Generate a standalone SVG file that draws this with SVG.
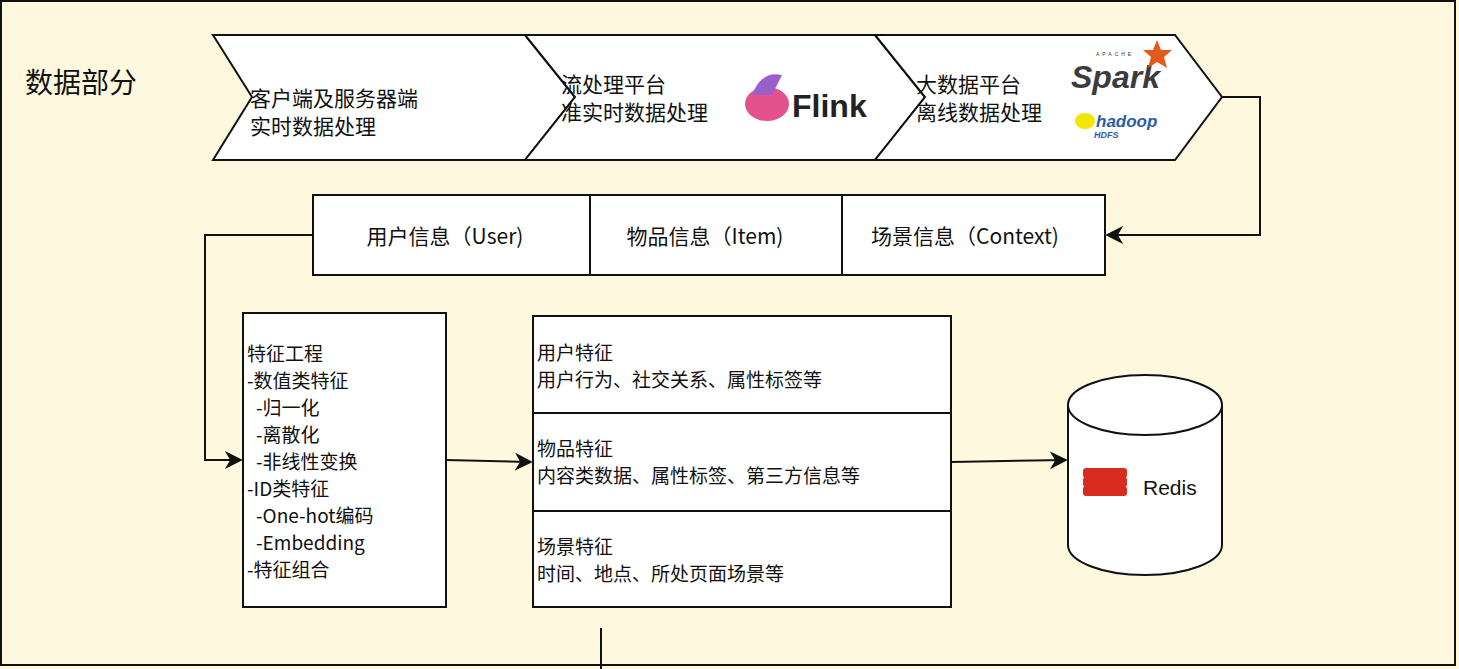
<svg xmlns="http://www.w3.org/2000/svg" width="1459" height="669" viewBox="0 0 1459 669">
<defs>
<style>
.s{fill:#fff;stroke:#111;stroke-width:2}
.t{font-family:"Noto Sans CJK SC","Liberation Sans",sans-serif;font-size:21px;fill:#111}
.f{font-family:"Noto Sans CJK SC","Liberation Sans",sans-serif;font-size:19px;fill:#111}
.c{fill:none;stroke:#111;stroke-width:2}
</style>
<marker id="a" viewBox="0 0 10 10" refX="9" refY="5" markerWidth="9" markerHeight="9" orient="auto"><path d="M0,0 L10,5 L0,10 L3,5z" fill="#111"/></marker>
</defs>
<rect x="0" y="0" width="1459" height="669" fill="#fdf8de"/>
<rect x="1" y="1" width="1454" height="664" fill="none" stroke="#111" stroke-width="2"/>
<text x="25" y="93" class="t" style="font-size:28px">数据部分</text>
<g id="step1"><polygon class="s" points="213,35 525,35 575,97 525,160 213,160 252,97"/>
<text class="t" x="250" y="106">客户端及服务器端</text><text class="t" x="250" y="134">实时数据处理</text></g>
<g id="step2"><polygon class="s" points="525,35 875,35 925,97 875,160 525,160 575,97"/>
<text class="t" x="561" y="92">流处理平台</text><text class="t" x="561" y="120">准实时数据处理</text>
<ellipse cx="767" cy="104" rx="22" ry="17" fill="#e4518f"/><path d="M752,95 q10,-25 30,-20 q-5,10 -10,20z" fill="#9b5fc9"/>
<text x="792" y="117" style="font-family:'Liberation Sans',sans-serif;font-size:32px;font-weight:bold" fill="#222">Flink</text></g>
<g id="step3"><polygon class="s" points="875,35 1175,35 1222,97 1175,160 875,160 925,97"/>
<text class="t" x="916" y="92">大数据平台</text><text class="t" x="916" y="120">离线数据处理</text>
<text x="1096" y="56" style="font-family:'Liberation Sans',sans-serif;font-size:5px;letter-spacing:3px" fill="#333">APACHE</text>
<text x="1071" y="88" style="font-family:'Liberation Sans',sans-serif;font-size:32px;font-weight:bold;font-style:italic" fill="#3c3c3c">Spark</text>
<polygon points="1157,40 1161,50 1172,50 1164,57 1167,68 1157,62 1148,68 1151,57 1143,50 1153,50" fill="#e25a1c"/>
<ellipse cx="1085" cy="121" rx="10" ry="8" fill="#f2e600"/>
<text x="1096" y="127" style="font-family:'Liberation Sans',sans-serif;font-size:17px;font-weight:bold;font-style:italic" fill="#2a5ca8">hadoop</text>
<text x="1094" y="138" style="font-family:'Liberation Sans',sans-serif;font-size:9px;font-weight:bold;font-style:italic" fill="#2a5ca8">HDFS</text></g>
<g id="info"><rect class="s" x="313" y="195" width="792" height="80"/>
<line class="c" x1="590" y1="195" x2="590" y2="275"/><line class="c" x1="842" y1="195" x2="842" y2="275"/>
<text class="t" x="445" y="244" text-anchor="middle">用户信息（User)</text>
<text class="t" x="705" y="244" text-anchor="middle">物品信息（Item)</text>
<text class="t" x="965" y="244" text-anchor="middle">场景信息（Context)</text></g>
<g id="fe"><rect class="s" x="243" y="313" width="203" height="294"/>
<text class="f" x="247" y="361">特征工程</text><text class="f" x="247" y="388">-数值类特征</text>
<text class="f" x="256" y="415">-归一化</text><text class="f" x="256" y="442">-离散化</text>
<text class="f" x="256" y="469">-非线性变换</text><text class="f" x="247" y="496">-ID类特征</text>
<text class="f" x="256" y="523">-One-hot编码</text><text class="f" x="256" y="550">-Embedding</text>
<text class="f" x="247" y="577">-特征组合</text></g>
<g id="feat"><rect class="s" x="533" y="316" width="418" height="291"/>
<line class="c" x1="533" y1="413" x2="951" y2="413"/><line class="c" x1="533" y1="511" x2="951" y2="511"/>
<text class="f" x="537" y="360">用户特征</text><text class="f" x="537" y="387">用户行为、社交关系、属性标签等</text>
<text class="f" x="537" y="456">物品特征</text><text class="f" x="537" y="483">内容类数据、属性标签、第三方信息等</text>
<text class="f" x="537" y="554">场景特征</text><text class="f" x="537" y="581">时间、地点、所处页面场景等</text></g>
<g id="redis"><path class="s" d="M1068,405 L1068,545 A77,30 0 0 0 1222,545 L1222,405"/>
<ellipse class="s" cx="1145" cy="405" rx="77" ry="30"/>
<g fill="#d82c20"><rect x="1083" y="486" width="44" height="10" rx="3"/><rect x="1083" y="477" width="44" height="10" rx="3"/><rect x="1083" y="468" width="44" height="10" rx="3"/></g>
<text x="1143" y="495" style="font-family:'Liberation Sans',sans-serif;font-size:21px" fill="#111">Redis</text></g>
<g id="connectors">
<polyline class="c" points="1222,97 1260,97 1260,235 1107,235" marker-end="url(#a)"/>
<polyline class="c" points="313,235 205,235 205,460 241,460" marker-end="url(#a)"/>
<line class="c" x1="446" y1="460" x2="531" y2="462" marker-end="url(#a)"/>
<line class="c" x1="951" y1="462" x2="1066" y2="460" marker-end="url(#a)"/>
<line class="c" x1="601" y1="628" x2="601" y2="669"/>
</g>
</svg>
